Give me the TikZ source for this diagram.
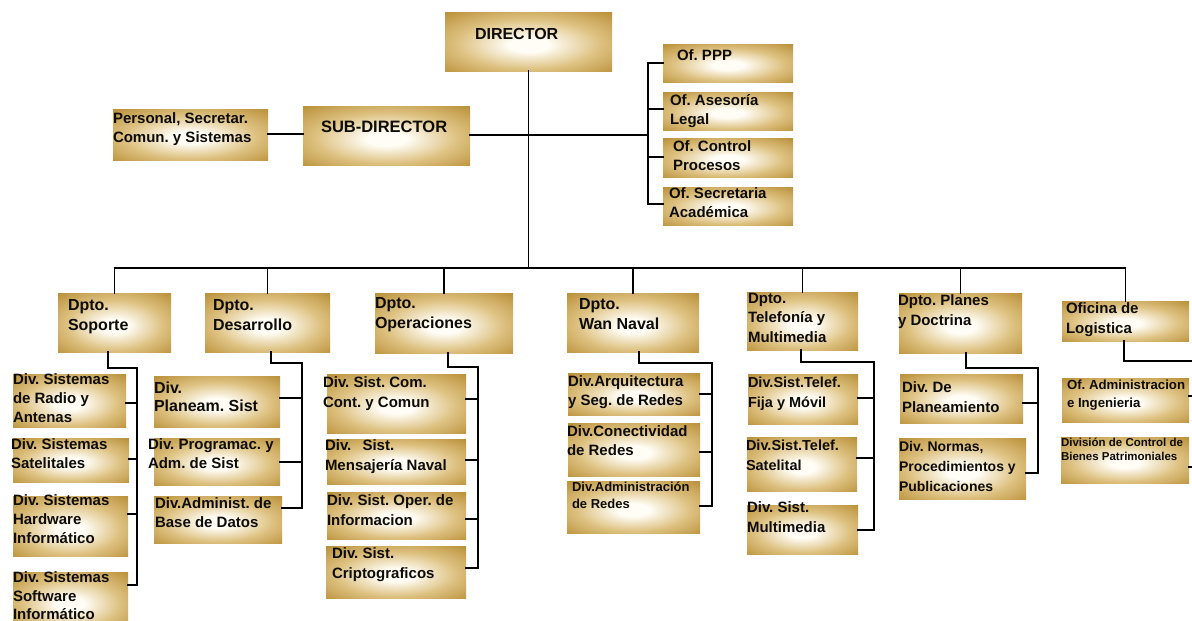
\documentclass[tikz,border=0pt]{standalone}
\usepackage{fontspec}
\setmainfont{Liberation Sans}
\usetikzlibrary{fit}

\definecolor{gc}{RGB}{255,253,246}
\definecolor{gm}{RGB}{222,194,130}
\definecolor{ge}{RGB}{184,142,54}
\definecolor{ged}{RGB}{162,120,34}
\definecolor{ink}{RGB}{14,12,8}

% gold panel: pale centre fading to gold at the edges
\pgfdeclareradialshading{goldbox}{\pgfpoint{0bp}{-3bp}}{%
  color(0bp)=(gc); color(6bp)=(gc); color(21bp)=(gm);
  color(37bp)=(ge); color(72bp)=(ged)}

\begin{document}
\frenchspacing
\begin{tikzpicture}[x=1pt,y=-1pt,
  gbox/.style={inner sep=0pt, outer sep=0pt, draw=none, shade, shading=goldbox},
  txt/.style={anchor=north west, inner sep=0pt, outer sep=0pt, align=left, text=ink},
  fs/.style 2 args={font=\bfseries\frenchspacing\fontsize{#1}{#2}\selectfont},
  wire/.style={line width=1.8pt, draw=black, line cap=rect}]

\fill[white] (0,0) rectangle (1192,621);
\useasboundingbox (0,0) rectangle (1192,621);

% ---------- top level ----------
\node[gbox, fit={(445,12) (612,71)}] (dir) {};
\node[txt, fs={16}{20}] (dir-t) at (475,28) {DIRECTOR};

\node[gbox, fit={(303,106) (470,165)}] (sub) {};
\node[txt, fs={16.5}{20}] (sub-t) at (321,121) {SUB-DIRECTOR};

\node[gbox, fit={(113,109) (268,160)}] (pers) {};
\node[txt, fs={15}{19}] (pers-t) at (113,113) {Personal, Secretar.\\Comun. y Sistemas};

\node[gbox, fit={(663,44) (793,82)}] (ofppp) {};
\node[txt, fs={15}{19}] (ofppp-t) at (677,50) {Of. PPP};

\node[gbox, fit={(663,92) (793,130)}] (ofase) {};
\node[txt, fs={15}{19}] (ofase-t) at (670,94) {Of. Asesoría\\Legal};

\node[gbox, fit={(663,138) (793,177)}] (ofcon) {};
\node[txt, fs={15}{19}] (ofcon-t) at (673,141) {Of. Control\\Procesos};

\node[gbox, fit={(663,187) (793,225)}] (ofsec) {};
\node[txt, fs={15}{19}] (ofsec-t) at (669,188) {Of. Secretaria\\Académica};

% ---------- departments ----------
\node[gbox, fit={(58,293) (171,352)}] (sop) {};
\node[txt, fs={16}{20}] (sop-t) at (68,299) {Dpto.\\Soporte};

\node[gbox, fit={(205,293) (330,352)}] (des) {};
\node[txt, fs={16}{20}] (des-t) at (213,299) {Dpto.\\Desarrollo};

\node[gbox, fit={(375,293) (513,353)}] (ope) {};
\node[txt, fs={16}{20}] (ope-t) at (375,297) {Dpto.\\Operaciones};

\node[gbox, fit={(567,293) (699,352)}] (wan) {};
\node[txt, fs={16}{20}] (wan-t) at (579,298) {Dpto.\\Wan Naval};

\node[gbox, fit={(747,292) (858,350)}] (tel) {};
\node[txt, fs={15}{19.5}] (tel-t) at (748,293) {Dpto.\\Telefonía y\\Multimedia};

\node[gbox, fit={(899,293) (1022,353)}] (pla) {};
\node[txt, fs={15}{20}] (pla-t) at (898,295) {Dpto. Planes\\y Doctrina};

\node[gbox, fit={(1062,301) (1189,341)}] (log) {};
\node[txt, fs={15}{20}] (log-t) at (1066,303) {Oficina de\\Logistica};

% ---------- divisions: Soporte ----------
\node[gbox, fit={(13,374) (126,427)}] (radio) {};
\node[txt, fs={15}{19}] (radio-t) at (13,374) {Div. Sistemas\\de Radio y\\Antenas};

\node[gbox, fit={(13,438) (129,482)}] (sat) {};
\node[txt, fs={15}{19}] (sat-t) at (11,439) {Div. Sistemas\\Satelitales};

\node[gbox, fit={(13,496) (128,556)}] (hw) {};
\node[txt, fs={15}{19}] (hw-t) at (13,495) {Div. Sistemas\\Hardware\\Informático};

\node[gbox, fit={(13,572) (128,630)}] (sw) {};
\node[txt, fs={15}{18.5}] (sw-t) at (13,572) {Div. Sistemas\\Software\\Informático};

% ---------- divisions: Desarrollo ----------
\node[gbox, fit={(154,376) (280,427)}] (pln) {};
\node[txt, fs={16}{17.5}] (pln-t) at (154,382) {Div.\\Planeam. Sist};

\node[gbox, fit={(154,438) (280,485)}] (prg) {};
\node[txt, fs={15}{19}] (prg-t) at (148,439) {Div. Programac. y\\Adm. de Sist};

\node[gbox, fit={(154,496) (282,543)}] (adb) {};
\node[txt, fs={15}{19}] (adb-t) at (155,498) {Div.Administ. de\\Base de Datos};

% ---------- divisions: Operaciones ----------
\node[gbox, fit={(327,374) (466,433)}] (com) {};
\node[txt, fs={15}{20}] (com-t) at (323,377) {Div. Sist. Com.\\Cont. y Comun};

\node[gbox, fit={(327,439) (466,484)}] (men) {};
\node[txt, fs={15}{20}] (men-t) at (325,440) {Div.\hspace{7pt} Sist.\\Mensajería Naval};

\node[gbox, fit={(327,492) (466,539)}] (opr) {};
\node[txt, fs={15}{20}] (opr-t) at (327,495) {Div. Sist. Oper. de\\Informacion};

\node[gbox, fit={(326,546) (466,598)}] (cri) {};
\node[txt, fs={15}{20}] (cri-t) at (332,548) {Div. Sist.\\Criptograficos};

% ---------- divisions: Wan Naval ----------
\node[gbox, fit={(568,373) (700,415)}] (arq) {};
\node[txt, fs={15}{19}] (arq-t) at (568,376) {Div.Arquitectura\\y Seg. de Redes};

\node[gbox, fit={(568,423) (700,476)}] (cnx) {};
\node[txt, fs={15}{19}] (cnx-t) at (567,426) {Div.Conectividad\\de Redes};

\node[gbox, fit={(567,481) (700,533)}] (adr) {};
\node[txt, fs={13}{17}] (adr-t) at (572,482) {Div.Administración\\de Redes};

% ---------- divisions: Telefonía ----------
\node[gbox, fit={(748,374) (858,424)}] (fij) {};
\node[txt, fs={14.5}{20}] (fij-t) at (748,377) {Div.Sist.Telef.\\Fija y Móvil};

\node[gbox, fit={(747,437) (857,491)}] (sti) {};
\node[txt, fs={14.5}{20}] (sti-t) at (746,440) {Div.Sist.Telef.\\Satelital};

\node[gbox, fit={(747,505) (858,554)}] (mul) {};
\node[txt, fs={15}{20}] (mul-t) at (747,502) {Div. Sist.\\Multimedia};

% ---------- divisions: Planes ----------
\node[gbox, fit={(900,374) (1023,423)}] (dpl) {};
\node[txt, fs={15}{20}] (dpl-t) at (902,382) {Div. De\\Planeamiento};

\node[gbox, fit={(899,438) (1026,499)}] (nor) {};
\node[txt, fs={14}{20}] (nor-t) at (899,441) {Div. Normas,\\Procedimientos y\\Publicaciones};

% ---------- divisions: Logistica ----------
\node[gbox, fit={(1062,378) (1189,422)}] (oad) {};
\node[txt, fs={13.2}{18}] (oad-t) at (1067,380) {Of. Administracion\\e Ingenieria};

\node[gbox, fit={(1061,437) (1189,483)}] (dcb) {};
\node[txt, fs={11.5}{14}] (dcb-t) at (1061,438) {División de Control de\\Bienes Patrimoniales};

% ---------- connectors ----------
\coordinate (bus) at (530,268);
\coordinate (ofbar) at (648,63);

\draw[wire] (dir.south) -- (dir.south |- bus);
\draw[wire] (sop.north |- bus) -- (log.north |- bus);
\foreach \d in {sop,des,ope,wan,tel,pla,log}
  \draw[wire] (\d.north |- bus) -- (\d.north);

\draw[wire] (pers.east |- 0,134) -- (sub.west |- 0,134);
\draw[wire] (sub.east |- 0,135) -- (ofbar |- 0,135);
\draw[wire] (ofbar) -- (ofbar |- 0,204);
\draw[wire] (ofbar) -- (ofppp.west |- ofbar);
\draw[wire] (ofase.west |- 0,109) -- (ofbar |- 0,109);
\draw[wire] (ofcon.west |- 0,157) -- (ofbar |- 0,157);
\draw[wire] (ofsec.west |- 0,204) -- (ofbar |- 0,204);

% Soporte
\coordinate (sopbar) at (137,368);
\draw[wire] (sop.south -| 108,0) |- (sopbar) -- (sopbar |- 0,585);
\draw[wire] (radio.east |- 0,403) -- (sopbar |- 0,403);
\draw[wire] (sat.east |- 0,459) -- (sopbar |- 0,459);
\draw[wire] (hw.east |- 0,514) -- (sopbar |- 0,514);
\draw[wire] (sw.east |- 0,585) -- (sopbar |- 0,585);

% Desarrollo
\coordinate (desbar) at (302,363);
\draw[wire] (des.south -| 271,0) |- (desbar) -- (desbar |- 0,508);
\draw[wire] (pln.east |- 0,398) -- (desbar |- 0,398);
\draw[wire] (prg.east |- 0,462) -- (desbar |- 0,462);
\draw[wire] (adb.east |- 0,508) -- (desbar |- 0,508);

% Operaciones
\coordinate (opebar) at (478,367);
\draw[wire] (ope.south -| 448,0) |- (opebar) -- (opebar |- 0,568);
\draw[wire] (com.east |- 0,399) -- (opebar |- 0,399);
\draw[wire] (men.east |- 0,460) -- (opebar |- 0,460);
\draw[wire] (opr.east |- 0,519) -- (opebar |- 0,519);
\draw[wire] (cri.east |- 0,568) -- (opebar |- 0,568);

% Wan Naval
\coordinate (wanbar) at (712,363);
\draw[wire] (wan.south -| 639,0) |- (wanbar) -- (wanbar |- 0,506);
\draw[wire] (arq.east |- 0,394) -- (wanbar |- 0,394);
\draw[wire] (cnx.east |- 0,452) -- (wanbar |- 0,452);
\draw[wire] (adr.east |- 0,506) -- (wanbar |- 0,506);

% Telefonía
\coordinate (telbar) at (874,362);
\draw[wire] (tel.south -| 801,0) |- (telbar) -- (telbar |- 0,530);
\draw[wire] (fij.east |- 0,398) -- (telbar |- 0,398);
\draw[wire] (sti.east |- 0,458) -- (telbar |- 0,458);
\draw[wire] (mul.east |- 0,530) -- (telbar |- 0,530);

% Planes
\coordinate (plabar) at (1038,368);
\draw[wire] (pla.south -| 966,0) |- (plabar) -- (plabar |- 0,473);
\draw[wire, line width=2.6pt] (dpl.east |- 0,403) -- (plabar |- 0,403);
\draw[wire] (nor.east |- 0,473) -- (plabar |- 0,473);

% Logistica
\coordinate (logbar) at (1200,361);
\draw[wire] (log.south -| 1124,0) |- (logbar) -- (logbar |- 0,467);
\draw[wire] (oad.east |- 0,396) -- (logbar |- 0,396);
\draw[wire] (dcb.east |- 0,467) -- (logbar |- 0,467);

\end{tikzpicture}
\end{document}
